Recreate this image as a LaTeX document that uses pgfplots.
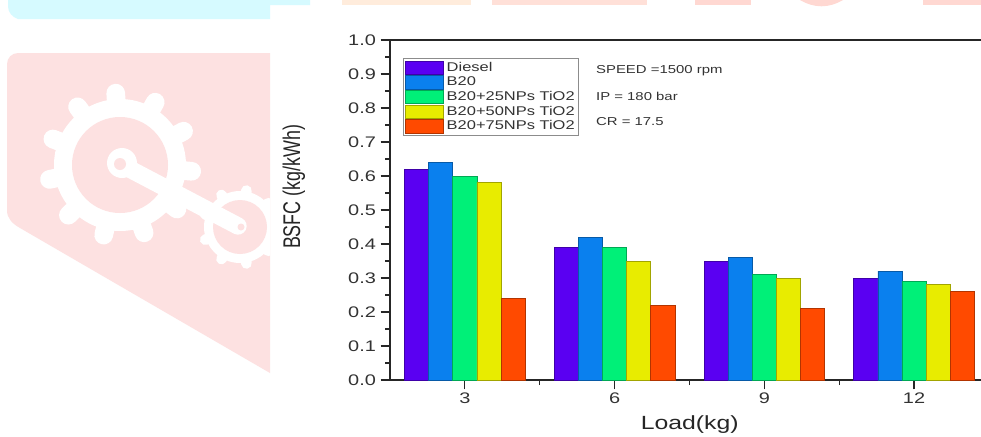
\documentclass[border=0pt]{standalone}
\usepackage{fontspec}
\usepackage{graphicx}
\setmainfont[FakeStretch=1.3]{Liberation Sans}
\newfontfamily\plainfont{Liberation Sans}
\usepackage{pgfplots}
\pgfplotsset{compat=1.18}
\definecolor{cA}{HTML}{5A00F2}
\definecolor{cB}{HTML}{0A80EE}
\definecolor{cC}{HTML}{00F078}
\definecolor{cD}{HTML}{E8EC00}
\definecolor{cE}{HTML}{FF4A00}
\definecolor{wm}{HTML}{FDE1E1}
\pgfplotstableread{
x a b c d e
0 0.62 0.64 0.60 0.58 0.24
1 0.39 0.42 0.39 0.35 0.22
2 0.35 0.36 0.31 0.30 0.21
3 0.30 0.32 0.29 0.28 0.26
}\datatab
\pgfplotsset{
 swatch/.style={
  legend image code/.code={\draw[##1,line width=.5pt] (0pt,-5pt) rectangle (29pt,5pt);}
 }
}
\begin{document}
\begin{tikzpicture}[x=0.75pt,y=-0.75pt]
\path[use as bounding box] (0,0) rectangle (981,436);
\clip (0,0) rectangle (981,436);
% background decoration
\fill[color=white] (0,0) rectangle (981,436);
\fill[color=wm] (270,53) -- (18,53) to[out=180,in=90] (7,64) -- (7,210) to[out=-90,in=150] (20,228) -- (270,373) -- cycle;
\fill[color={rgb,255:red,214;green,250;blue,255}] (8,0) -- (8,6) to[out=-90,in=160] (18,19) -- (270,19) -- (270,5) -- (310,5) -- (310,0) -- cycle;
\fill[color={rgb,255:red,255;green,236;blue,220}] (342,0) rectangle (471,5);
\fill[color={rgb,255:red,255;green,224;blue,216}] (492,0) rectangle (647,5);
\fill[color={rgb,255:red,255;green,216;blue,210}] (695,0) rectangle (751,5);
\fill[color={rgb,255:red,255;green,216;blue,210}] (800,0) to[bend right=30] (843,0) -- cycle;
\fill[color={rgb,255:red,255;green,216;blue,210}] (923,0) rectangle (981,5);
\begin{scope}
\clip (0,40) rectangle (270,400);
% big gear
\fill[white] (120,165) circle (66);
\foreach \a in {5,37.7,...,360}{\draw[white,line width=14pt,line cap=round] (120,165) ++(\a:60) -- ++(\a:12);}
\fill[wm] (120,165) circle (48);
% small gear
\fill[white] (240,227) circle (36);
\foreach \a in {0,40,...,320}{\draw[white,line width=8pt,line cap=round] (240,227) ++(\a:32) -- ++(\a:5);}
\fill[wm] (240,227) circle (27);
% crank
\draw[white,line width=13pt,line cap=round] (122,165) -- (238,226);
\fill[white] (122,163) circle (15);
\fill[wm] (120,164) circle (6);
\fill[wm] (241,227) circle (3.5);
\end{scope}
\begin{axis}[
 at={(292.5pt,-285pt)}, anchor=south west,
 scale only axis, width=459.7pt, height=255pt,
 xmin=-0.5, xmax=3.594, ymin=0, ymax=1,
 ybar=0pt, bar width=0.161,
 xtick={0,1,2,3}, xticklabels={3,6,9,12},
 minor xtick={0.5,1.5,2.5},
 ytick={0,0.1,...,1.01}, minor y tick num=1,
 yticklabel style={/pgf/number format/.cd,fixed,fixed zerofill,precision=1,assume math mode=true},
 xtick pos=bottom, ytick pos=left, tick align=outside,
 major tick length=7pt, minor tick length=3.75pt,
 tick style={black!85,line width=.8pt},
 axis line style={black!85,line width=.9pt},
 tick label style={font=\fontsize{11.5}{13}\selectfont,color=black!80},
 xticklabel style={yshift=1pt},
 xlabel={Load(kg)},
 ylabel={\plainfont\scalebox{1}[1.35]{BSFC (kg/kWh)}},
 xlabel style={font=\fontsize{14.3}{16}\selectfont,color=black!85,at={(axis description cs:0.489,0)},anchor=center,yshift=-33.75pt},
 ylabel style={font=\fontsize{13.4}{15}\selectfont,color=black!85,at={(axis description cs:0,0.568)},anchor=center,yshift=72pt},
 legend cell align=left,
 legend style={at={(axis description cs:0.0212,0.947)},anchor=north west,
   draw=black!45,line width=.6pt,font=\fontsize{9.5}{11}\selectfont,text=black!80,
   inner xsep=1pt,inner ysep=1pt,row sep=-1.4pt,
   /tikz/every even column/.append style={column sep=2pt}},
 swatch,
 clip=true,
 enlargelimits=false,
]
\addplot[fill=cA,draw=cA!70!black,line width=.5pt] table[x=x,y=a]{\datatab};
\addplot[fill=cB,draw=cB!70!black,line width=.5pt] table[x=x,y=b]{\datatab};
\addplot[fill=cC,draw=cC!70!black,line width=.5pt] table[x=x,y=c]{\datatab};
\addplot[fill=cD,draw=cD!70!black,line width=.5pt] table[x=x,y=d]{\datatab};
\addplot[fill=cE,draw=cE!70!black,line width=.5pt] table[x=x,y=e]{\datatab};
\legend{Diesel,B20,B20+25NPs TiO2,B20+50NPs TiO2,B20+75NPs TiO2}
\node[anchor=west,font=\fontsize{8.6}{10}\selectfont,color=black!80,inner sep=0pt] at (axis cs:0.875,0.911) {SPEED =1500 rpm};
\node[anchor=west,font=\fontsize{8.6}{10}\selectfont,color=black!80,inner sep=0pt] at (axis cs:0.875,0.835) {IP = 180 bar};
\node[anchor=west,font=\fontsize{8.6}{10}\selectfont,color=black!80,inner sep=0pt] at (axis cs:0.875,0.76) {CR = 17.5};
\end{axis}
\end{tikzpicture}
\end{document}
